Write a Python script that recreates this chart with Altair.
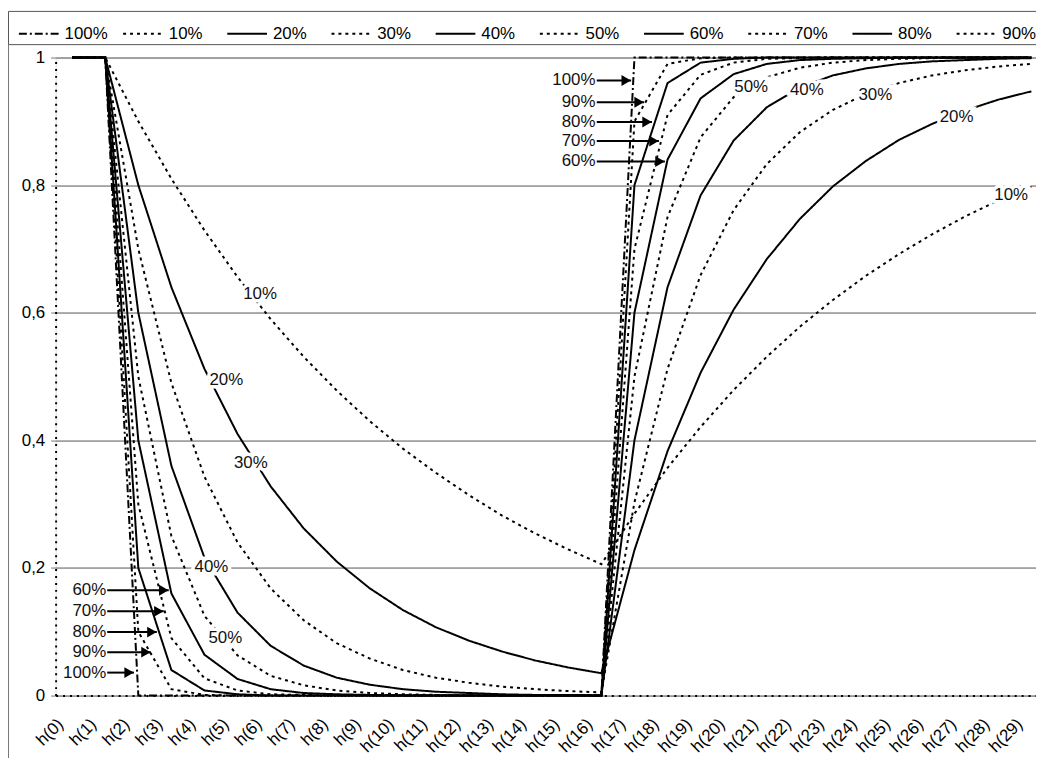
import altair as alt
import pandas as pd

categories = ["h(0)", "h(1)", "h(2)", "h(3)", "h(4)", "h(5)", "h(6)", "h(7)", "h(8)", "h(9)",
              "h(10)", "h(11)", "h(12)", "h(13)", "h(14)", "h(15)", "h(16)", "h(17)", "h(18)", "h(19)",
              "h(20)", "h(21)", "h(22)", "h(23)", "h(24)", "h(25)", "h(26)", "h(27)", "h(28)", "h(29)"]

series_names = ["100%", "10%", "20%", "30%", "40%", "50%", "60%", "70%", "80%", "90%"]

s100 = [1, 1, 0, 0, 0, 0, 0, 0, 0, 0, 0, 0, 0, 0, 0, 0, 0,
        1, 1, 1, 1, 1, 1, 1, 1, 1, 1, 1, 1, 1]
s10 = [1, 1, 0.9, 0.81, 0.729, 0.656, 0.59, 0.531, 0.478, 0.43, 0.387, 0.349, 0.314, 0.282, 0.254, 0.229, 0.206,
       0.285, 0.357, 0.421, 0.479, 0.531, 0.578, 0.62, 0.658, 0.692, 0.723, 0.751, 0.776, 0.798]
s20 = [1, 1, 0.8, 0.64, 0.512, 0.41, 0.328, 0.262, 0.21, 0.168, 0.134, 0.107, 0.086, 0.069, 0.055, 0.044, 0.035,
       0.228, 0.383, 0.506, 0.605, 0.684, 0.747, 0.798, 0.838, 0.871, 0.896, 0.917, 0.934, 0.947]
s30 = [1, 1, 0.7, 0.49, 0.343, 0.24, 0.168, 0.118, 0.082, 0.058, 0.04, 0.028, 0.02, 0.014, 0.01, 0.007, 0.005,
       0.303, 0.512, 0.659, 0.761, 0.833, 0.883, 0.918, 0.943, 0.96, 0.972, 0.98, 0.986, 0.99]
s40 = [1, 1, 0.6, 0.36, 0.216, 0.13, 0.078, 0.047, 0.028, 0.017, 0.01, 0.006, 0.004, 0.002, 0.001, 0.001, 0.0,
       0.4, 0.64, 0.784, 0.87, 0.922, 0.953, 0.972, 0.983, 0.99, 0.994, 0.996, 0.998, 0.999]
s50 = [1, 1, 0.5, 0.25, 0.125, 0.063, 0.031, 0.016, 0.008, 0.004, 0.002, 0.001, 0.0, 0.0, 0.0, 0.0, 0.0,
       0.5, 0.75, 0.875, 0.938, 0.969, 0.984, 0.992, 0.996, 0.998, 0.999, 1, 1, 1]
s60 = [1, 1, 0.4, 0.16, 0.064, 0.026, 0.01, 0.004, 0.002, 0.001, 0, 0, 0, 0, 0, 0, 0,
       0.6, 0.84, 0.936, 0.974, 0.99, 0.996, 0.998, 0.999, 1, 1, 1, 1, 1]
s70 = [1, 1, 0.3, 0.09, 0.027, 0.008, 0.002, 0.001, 0, 0, 0, 0, 0, 0, 0, 0, 0,
       0.7, 0.91, 0.973, 0.992, 0.998, 0.999, 1, 1, 1, 1, 1, 1, 1]
s80 = [1, 1, 0.2, 0.04, 0.008, 0.002, 0, 0, 0, 0, 0, 0, 0, 0, 0, 0, 0,
       0.8, 0.96, 0.992, 0.998, 1, 1, 1, 1, 1, 1, 1, 1, 1]
s90 = [1, 1, 0.1, 0.01, 0.001, 0, 0, 0, 0, 0, 0, 0, 0, 0, 0, 0, 0,
       0.9, 0.99, 0.999, 1, 1, 1, 1, 1, 1, 1, 1, 1, 1]

series_values = [s100, s10, s20, s30, s40, s50, s60, s70, s80, s90]

# in-plot labels (text, x index, y value)
label_text = ["10%", "20%", "30%", "40%", "50%", "50%", "40%", "30%", "20%", "10%"]
label_x = [5.68, 4.66, 5.40, 4.21, 4.63, 20.53, 22.21, 24.28, 26.74, 28.39]
label_y = [0.630, 0.495, 0.365, 0.202, 0.090, 0.953, 0.949, 0.942, 0.907, 0.785]

# arrow labels (text, text x, arrow start, arrow tip, y)
arrow_text = ["60%", "70%", "80%", "90%", "100%", "100%", "90%", "80%", "70%", "60%"]
arrow_tx = [1.03, 1.03, 1.03, 1.03, 1.03, 15.82, 15.82, 15.82, 15.82, 15.82]
arrow_x0 = [1.06, 1.06, 1.06, 1.06, 1.06, 15.86, 15.86, 15.86, 15.86, 15.86]
arrow_x1 = [2.92, 2.77, 2.56, 2.38, 1.87, 16.90, 17.29, 17.53, 17.74, 17.92]
arrow_y = [0.165, 0.132, 0.0995, 0.068, 0.036, 0.964, 0.930, 0.899, 0.869, 0.837]

FONT = "Liberation Sans"

rows = []
for name, vals in zip(series_names, series_values):
    for i, v in enumerate(vals):
        rows.append({"idx": i, "value": v, "series": name})
df = pd.DataFrame(rows)

lab_df = pd.DataFrame({"t": label_text, "x": label_x, "y": label_y})
arr_df = pd.DataFrame({"t": arrow_text, "tx": arrow_tx, "x0": arrow_x0, "x1": arrow_x1, "y": arrow_y})

dash_range = [[8, 3, 2, 3], [3, 4], [1, 0], [3, 4], [1, 0], [3, 4], [1, 0], [3, 4], [1, 0], [3, 4]]

label_expr = "[" + ",".join("'" + c + "'" for c in categories) + "][datum.value]"

xscale = alt.Scale(domain=[-0.5, 29.14], nice=False, zero=False)
yscale = alt.Scale(domain=[0, 1], nice=False, zero=False)

x_axis = alt.Axis(values=list(range(len(categories))), labelExpr=label_expr, labelAngle=315,
                  labelAlign="right", labelBaseline="middle", labelOffset=-12, labelPadding=26,
                  labelOverlap=False, labelBound=False, labelFlush=False,
                  ticks=False, tickSize=0, grid=False, title=None, labelFontSize=17,
                  domainColor="black", domainDash=[2, 5], domainWidth=2, labelColor="black",
                  labelFont=FONT)
y_axis = alt.Axis(values=[0, 0.2, 0.4, 0.6, 0.8, 1],
                  labelExpr="datum.value == 0 ? '0' : datum.value == 1 ? '1' : replace(format(datum.value, '.1f'), '.', ',')",
                  title=None, grid=True, gridColor="#555", gridWidth=1, tickColor="#777", tickSize=5,
                  labelPadding=6, labelFontSize=17, labelColor="black", labelFont=FONT,
                  domainColor="black", domainDash=[2, 5], domainWidth=2)

xa = dict(scale=xscale, axis=x_axis)
ya = dict(scale=yscale, axis=y_axis)

one = pd.DataFrame({"a": [0]})
frame_box = alt.Chart(one).mark_rect(fillOpacity=0, stroke="#555", strokeWidth=1).encode(
    x=alt.value(-47.5), x2=alt.value(995), y=alt.value(-46.5), y2=alt.value(-13))
frame_left = alt.Chart(one).mark_rule(color="#777", strokeWidth=1).encode(
    x=alt.value(-47.5), y=alt.value(-13), y2=alt.value(720))

lines = alt.Chart(df).mark_line(color="black", strokeWidth=2).encode(
    x=alt.X("idx:Q", **xa),
    y=alt.Y("value:Q", **ya),
    strokeDash=alt.StrokeDash("series:N", scale=alt.Scale(domain=series_names, range=dash_range),
                              legend=alt.Legend(orient="none", legendX=-38, legendY=-45, direction="horizontal",
                                                title=None, symbolType="stroke", symbolSize=1600,
                                                symbolStrokeWidth=2, symbolStrokeColor="black",
                                                labelFontSize=17, labelFont=FONT, labelColor="black",
                                                gridAlign="all", columnPadding=11, labelOffset=5, padding=0)),
    detail="series:N",
)

halo = alt.Chart(lab_df).mark_text(font=FONT, fontSize=17, color="white", stroke="white", strokeWidth=7,
                                   baseline="middle", align="center").encode(
    x=alt.X("x:Q", **xa), y=alt.Y("y:Q", **ya), text="t:N")
labels = alt.Chart(lab_df).mark_text(font=FONT, fontSize=17, color="#111", baseline="middle", align="center").encode(
    x=alt.X("x:Q", **xa), y=alt.Y("y:Q", **ya), text="t:N")

arrow_lines = alt.Chart(arr_df).mark_rule(color="black", strokeWidth=2).encode(
    x=alt.X("x0:Q", **xa), x2="x1:Q", y=alt.Y("y:Q", **ya))
arrow_heads = alt.Chart(arr_df).mark_point(shape="triangle-right", filled=True, color="black", size=120,
                                           opacity=1, xOffset=-5).encode(
    x=alt.X("x1:Q", **xa), y=alt.Y("y:Q", **ya))
arrow_labels = alt.Chart(arr_df).mark_text(font=FONT, fontSize=17, color="#111", baseline="middle", align="right").encode(
    x=alt.X("tx:Q", **xa), y=alt.Y("y:Q", **ya), text="t:N")

chart = alt.layer(lines, frame_box, frame_left, halo, labels, arrow_lines, arrow_heads, arrow_labels).properties(
    width=988, height=643,
    padding={"left": 48, "top": 47, "right": 0, "bottom": 60},
    autosize=alt.AutoSizeParams(type="none"),
).configure_view(stroke="#888", strokeWidth=1).configure(font=FONT)

chart.save("out.html", embed_options={"renderer": "svg", "actions": False})
